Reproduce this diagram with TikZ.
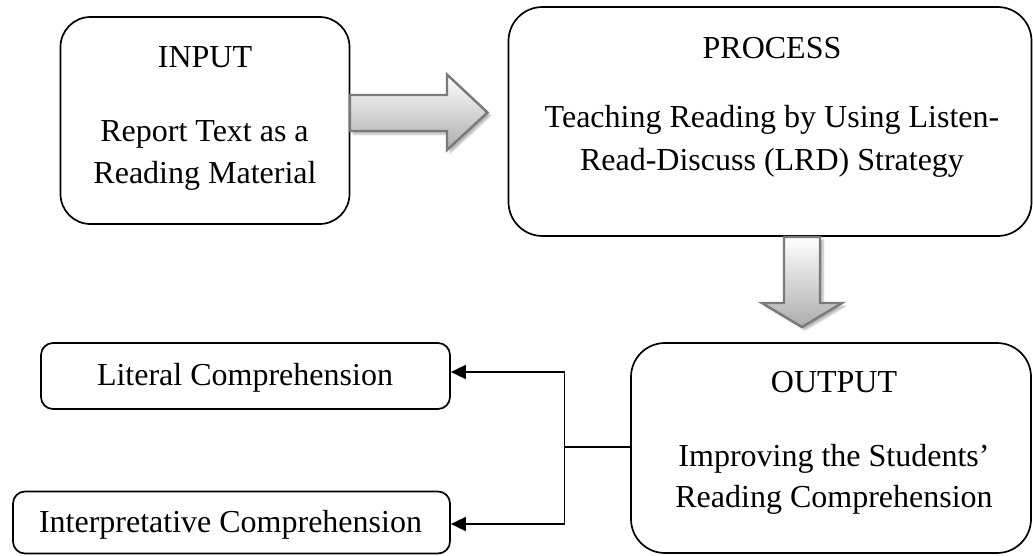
\documentclass[tikz,border=0pt]{standalone}
\usepackage{fontspec}
\setmainfont{Liberation Serif}
\usetikzlibrary{arrows.meta,shadows.blur}
\begin{document}
\begin{tikzpicture}[x=1pt,y=-1pt,
  box/.style={draw=black, line width=1.7pt, rounded corners=#1, inner sep=0pt, fill=white},
  txt/.style={anchor=base, inner sep=0pt, font=\fontsize{32}{38}\selectfont},
  blockarrow/.style={draw=black!52, line width=2.4pt, line join=miter, top color=white, bottom color=black!32,
    blur shadow={shadow xshift=3pt, shadow yshift=-3pt, shadow blur steps=6, shadow opacity=30}},
  conn/.style={draw=black, line width=1.7pt},
  tip/.style={-{Triangle[length=15pt,width=14pt]}}]
\useasboundingbox (0,0) rectangle (1033,555);

% boxes
\node[box=30pt, minimum width=289pt, minimum height=207pt] (input) at (205,120.5) {};
\node[box=34pt, minimum width=523pt, minimum height=229pt] (process) at (770,121.5) {};
\node[box=34pt, minimum width=400pt, minimum height=210pt] (output) at (831,448) {};
\node[box=12pt, minimum width=409pt, minimum height=66pt] (lit) at (245.5,376) {};
\node[box=12pt, minimum width=437pt, minimum height=62pt] (interp) at (231.5,522.5) {};

% texts
\node[txt] (inT) at (205,67) {INPUT};
\node[txt] (inA) at (204.5,141) {Report Text as a};
\node[txt] (inB) at (205,183) {Reading Material};

\node[txt] (prT) at (772,58.5) {PROCESS};
\node[txt] (prA) at (772,127.5) {Teaching Reading by Using Listen-};
\node[txt] (prB) at (772,170) {Read-Discuss (LRD) Strategy};

\node[txt] (ouT) at (834,392) {OUTPUT};
\node[txt] (ouA) at (834,466.5) {Improving the Students’};
\node[txt] (ouB) at (834,507) {Reading Comprehension};

\node[txt] (litT) at (245,385) {Literal Comprehension};
\node[txt] (intT) at (230.5,532.5) {Interpretative Comprehension};

% block arrows
\path[blockarrow] (350,95) -- (447,95) -- (447,74.5) -- (487.5,112.5) -- (447,150) -- (447,131) -- (350,131) -- cycle;
\path[blockarrow] (784,237) -- (820,237) -- (820,303) -- (842,303) -- (802,327) -- (762,303) -- (784,303) -- cycle;

% connectors
\coordinate (j) at (564.5,447);
\draw[conn] (output.west |- j) -- (j);
\draw[conn, tip] (j) |- ([yshift=4pt]lit.east);
\draw[conn, tip] (j) |- ([yshift=-1.5pt]interp.east);
\end{tikzpicture}
\end{document}
